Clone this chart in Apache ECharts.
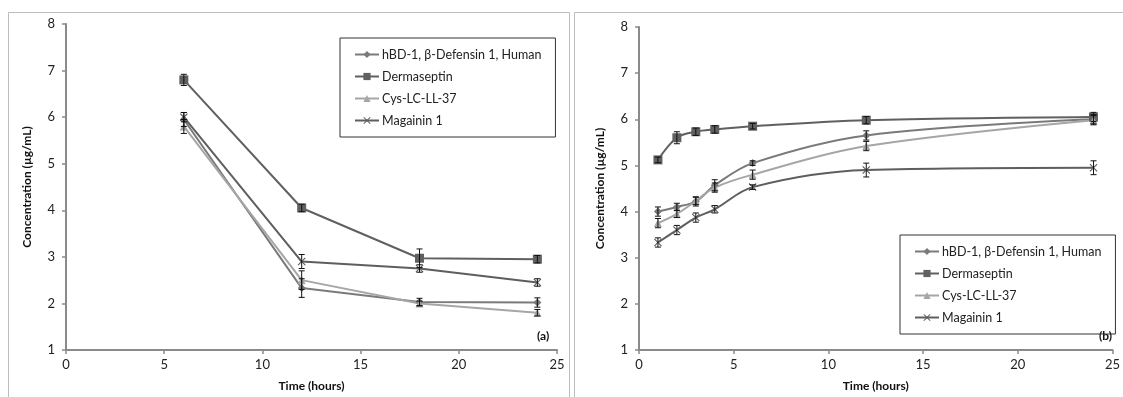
<!DOCTYPE html>
<html>
<head>
<meta charset="utf-8">
<script src="https://cdn.jsdelivr.net/npm/echarts@6/dist/echarts.min.js"></script>
<style>
  html, body { margin: 0; padding: 0; background: #fff; }
  #chart { width: 1123px; height: 397px; }
</style>
</head>
<body>
<div id="chart"></div>
<script>
// series names
const names = ['hBD-1, β-Defensin 1, Human', 'Dermaseptin', 'Cys-LC-LL-37', 'Magainin 1'];

// panel (a)
const timeA = [6, 12, 18, 24];
const hbdA = [5.95, 2.33, 2.03, 2.02];
const dermA = [6.8, 4.05, 2.97, 2.95];
const cysA = [5.8, 2.5, 2.0, 1.8];
const magA = [6.0, 2.9, 2.75, 2.45];
const hbdErrA = [0.15, 0.2, 0.08, 0.1];
const dermErrA = [0.12, 0.08, 0.2, 0.08];
const cysErrA = [0.15, 0.2, 0.05, 0.07];
const magErrA = [0.1, 0.15, 0.08, 0.08];

// panel (b)
const timeB = [1, 2, 3, 4, 6, 12, 24];
const hbdB = [4.0, 4.1, 4.22, 4.57, 5.05, 5.65, 6.0];
const dermB = [5.12, 5.6, 5.73, 5.78, 5.85, 5.98, 6.05];
const cysB = [3.75, 3.95, 4.23, 4.52, 4.8, 5.42, 5.98];
const magB = [3.33, 3.6, 3.87, 4.05, 4.53, 4.9, 4.95];
const hbdErrB = [0.1, 0.08, 0.1, 0.12, 0.05, 0.1, 0.1];
const dermErrB = [0.06, 0.13, 0.08, 0.08, 0.06, 0.08, 0.1];
const cysErrB = [0.1, 0.08, 0.08, 0.1, 0.1, 0.1, 0.1];
const magErrB = [0.1, 0.1, 0.1, 0.08, 0.05, 0.15, 0.15];

const xTicks = [0, 5, 10, 15, 20, 25];
const yTicks = [1, 2, 3, 4, 5, 6, 7, 8];

const colors = ['#7a7a7a', '#606060', '#a6a6a6', '#5e5e5e'];
const crossPath = 'path://M0,1L1,0L5,4L9,0L10,1L6,5L10,9L9,10L5,6L1,10L0,9L4,5Z';
const symbols = ['diamond', 'rect', 'triangle', crossPath];
const symbolSizes = [8, 9, 8, 8];
const font = 'Lato, "Open Sans", sans-serif';

const chart = echarts.init(document.getElementById('chart'));

function pairs(xs, ys) {
  return xs.map((x, i) => [x, ys[i]]);
}
function errData(xs, ys, es) {
  return xs.map((x, i) => [x, ys[i] - es[i], ys[i] + es[i]]);
}

function errRender(params, api) {
  const x = api.value(0);
  const p1 = api.coord([x, api.value(2)]);
  const p2 = api.coord([x, api.value(1)]);
  const w = 3;
  const st = { stroke: '#111', lineWidth: 1 };
  return {
    type: 'group',
    children: [
      { type: 'line', shape: { x1: p1[0], y1: p1[1], x2: p2[0], y2: p2[1] }, style: st },
      { type: 'line', shape: { x1: p1[0] - w, y1: p1[1], x2: p1[0] + w, y2: p1[1] }, style: st },
      { type: 'line', shape: { x1: p2[0] - w, y1: p2[1], x2: p2[0] + w, y2: p2[1] }, style: st }
    ]
  };
}

function panelSeries(idx, xs, lists, errs, smooth) {
  const out = [];
  lists.forEach((ys, i) => {
    out.push({
      name: names[i],
      type: 'line',
      xAxisIndex: idx,
      yAxisIndex: idx,
      data: pairs(xs, ys),
      smooth: smooth,
      symbol: symbols[i],
      symbolSize: symbolSizes[i],
      showAllSymbol: true,
      color: colors[i],
      lineStyle: { color: colors[i], width: 2 },
      itemStyle: { color: colors[i] },
      z: 2
    });
  });
  lists.forEach((ys, i) => {
    out.push({
      type: 'custom',
      xAxisIndex: idx,
      yAxisIndex: idx,
      data: errData(xs, ys, errs[i]),
      renderItem: errRender,
      encode: { x: 0, y: [1, 2] },
      silent: true,
      z: 3
    });
  });
  return out;
}

function xAxis(gridIndex) {
  return {
    type: 'value',
    gridIndex: gridIndex,
    min: xTicks[0],
    max: xTicks[xTicks.length - 1],
    interval: 5,
    name: 'Time (hours)',
    nameLocation: 'middle',
    nameGap: 30,
    nameTextStyle: { fontFamily: font, fontWeight: 'bold', fontSize: 12, color: '#111' },
    axisLine: { lineStyle: { color: '#8a8a8a', width: 2 } },
    axisTick: { show: true, length: 4, lineStyle: { color: '#8a8a8a', width: 1.5 } },
    axisLabel: { fontFamily: font, fontSize: 13, color: '#222', margin: 8 },
    splitLine: { show: false }
  };
}
function yAxis(gridIndex) {
  return {
    type: 'value',
    gridIndex: gridIndex,
    min: yTicks[0],
    max: yTicks[yTicks.length - 1],
    interval: 1,
    name: 'Concentration (µg/mL)',
    nameLocation: 'middle',
    nameGap: 33,
    nameTextStyle: { fontFamily: font, fontWeight: 'bold', fontSize: 12, color: '#111' },
    axisLine: { show: true, lineStyle: { color: '#8a8a8a', width: 2 } },
    axisTick: { show: true, length: 4, lineStyle: { color: '#8a8a8a', width: 1.5 } },
    axisLabel: { fontFamily: font, fontSize: 13, color: '#222', margin: 11 },
    splitLine: { show: false }
  };
}

function legend(left, top) {
  return {
    left: left,
    top: top,
    orient: 'vertical',
    data: names,
    borderColor: '#333',
    borderWidth: 1,
    padding: [10, 14, 10, 14],
    itemGap: 9,
    itemWidth: 24,
    itemHeight: 9,
    selectedMode: false,
    textStyle: { fontFamily: font, fontSize: 12.5, color: '#222', padding: [0, 0, 0, -2] }
  };
}

const option = {
  animation: false,
  backgroundColor: '#fff',
  grid: [
    { left: 66, right: 566, top: 24, bottom: 44 },
    { left: 639, right: 5, top: 27, bottom: 43 }
  ],
  xAxis: [xAxis(0), xAxis(1)],
  yAxis: [yAxis(0), yAxis(1)],
  legend: [legend(340, 38), legend(900, 235)],
  graphic: [
    { type: 'rect', shape: { x: 8.5, y: 12.5, width: 561, height: 400 }, style: { fill: 'none', stroke: '#bdbdbd', lineWidth: 1 }, z: -1 },
    { type: 'rect', shape: { x: 574.5, y: 12.5, width: 560, height: 400 }, style: { fill: 'none', stroke: '#bdbdbd', lineWidth: 1 }, z: -1 },
    { type: 'text', left: 537, top: 330, style: { text: '(a)', font: 'bold 12px ' + font, fill: '#111' } },
    { type: 'text', left: 1099, top: 330, style: { text: '(b)', font: 'bold 12px ' + font, fill: '#111' } }
  ],
  series: [].concat(
    panelSeries(0, timeA, [hbdA, dermA, cysA, magA], [hbdErrA, dermErrA, cysErrA, magErrA], false),
    panelSeries(1, timeB, [hbdB, dermB, cysB, magB], [hbdErrB, dermErrB, cysErrB, magErrB], 0.35)
  )
};

chart.setOption(option);
</script>
</body>
</html>
